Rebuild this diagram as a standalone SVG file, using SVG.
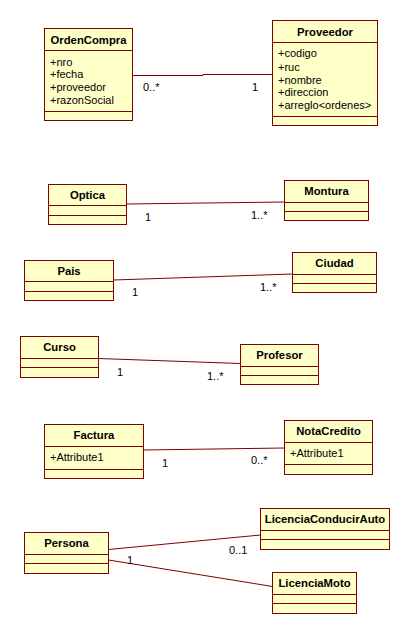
<svg xmlns="http://www.w3.org/2000/svg" width="410" height="634" viewBox="0 0 410 634">
<style>
.box{fill:#FFFFC8;stroke:#800000;stroke-width:1}
.sep{stroke:#800000;stroke-width:1}
.t{font-family:"Liberation Sans",Arial,sans-serif;font-size:11.3px;font-weight:bold;fill:#000;text-anchor:middle}
.a{font-family:"Liberation Sans",Arial,sans-serif;font-size:11px;fill:#000}
.c{fill:none;stroke:#800000;stroke-width:1}
</style>
<rect width="410" height="634" fill="#fff"/>
<g id="connectors">
<polyline class="c" points="132.5,75.5 203,75.5 203,74.5 272.5,74.5"/>
<line class="c" x1="126.5" y1="204" x2="284.5" y2="202"/>
<line class="c" x1="113.5" y1="280" x2="292.5" y2="274"/>
<line class="c" x1="98.5" y1="358.5" x2="240.5" y2="363.5"/>
<line class="c" x1="143.5" y1="450" x2="284.5" y2="448"/>
<line class="c" x1="108.5" y1="549.5" x2="260.5" y2="535"/>
<line class="c" x1="108.5" y1="560" x2="272.5" y2="586.5"/>
<text class="a" x="143" y="91">0..*</text>
<text class="a" x="252" y="91">1</text>
<text class="a" x="145" y="221">1</text>
<text class="a" x="251" y="219">1..*</text>
<text class="a" x="132" y="296">1</text>
<text class="a" x="260" y="291">1..*</text>
<text class="a" x="117" y="376">1</text>
<text class="a" x="207" y="380">1..*</text>
<text class="a" x="162" y="467">1</text>
<text class="a" x="251" y="464">0..*</text>
<text class="a" x="229" y="554">0..1</text>
<text class="a" x="127" y="564">1</text>
</g>
<g id="OrdenCompra">
<rect class="box" x="44.5" y="28.5" width="88" height="92"/>
<line class="sep" x1="44.5" y1="50.5" x2="132.5" y2="50.5"/>
<line class="sep" x1="44.5" y1="111.5" x2="132.5" y2="111.5"/>
<text class="t" x="88.5" y="43.5">OrdenCompra</text>
<text class="a" x="50" y="65.5">+nro</text>
<text class="a" x="50" y="78">+fecha</text>
<text class="a" x="50" y="91">+proveedor</text>
<text class="a" x="50" y="104">+razonSocial</text>
</g>
<g id="Proveedor">
<rect class="box" x="272.5" y="20.5" width="105" height="105"/>
<line class="sep" x1="272.5" y1="42.5" x2="377.5" y2="42.5"/>
<line class="sep" x1="272.5" y1="116.5" x2="377.5" y2="116.5"/>
<text class="t" x="325" y="35.5">Proveedor</text>
<text class="a" x="278" y="57">+codigo</text>
<text class="a" x="278" y="70.5">+ruc</text>
<text class="a" x="278" y="83.5">+nombre</text>
<text class="a" x="278" y="96">+direccion</text>
<text class="a" x="278" y="109">+arreglo&lt;ordenes&gt;</text>
</g>
<g id="Optica">
<rect class="box" x="48.5" y="184.5" width="78" height="40"/>
<line class="sep" x1="48.5" y1="205.5" x2="126.5" y2="205.5"/>
<line class="sep" x1="48.5" y1="215.5" x2="126.5" y2="215.5"/>
<text class="t" x="87.5" y="199">Optica</text>
</g>
<g id="Montura">
<rect class="box" x="284.5" y="180.5" width="84" height="40"/>
<line class="sep" x1="284.5" y1="202.5" x2="368.5" y2="202.5"/>
<line class="sep" x1="284.5" y1="211.5" x2="368.5" y2="211.5"/>
<text class="t" x="326.5" y="195">Montura</text>
</g>
<g id="Pais">
<rect class="box" x="24.5" y="260.5" width="89" height="40"/>
<line class="sep" x1="24.5" y1="281.5" x2="113.5" y2="281.5"/>
<line class="sep" x1="24.5" y1="291.5" x2="113.5" y2="291.5"/>
<text class="t" x="69" y="275">Pais</text>
</g>
<g id="Ciudad">
<rect class="box" x="292.5" y="252.5" width="84" height="40"/>
<line class="sep" x1="292.5" y1="274.5" x2="376.5" y2="274.5"/>
<line class="sep" x1="292.5" y1="283.5" x2="376.5" y2="283.5"/>
<text class="t" x="334.5" y="267">Ciudad</text>
</g>
<g id="Curso">
<rect class="box" x="20.5" y="336.5" width="78" height="41"/>
<line class="sep" x1="20.5" y1="358.5" x2="98.5" y2="358.5"/>
<line class="sep" x1="20.5" y1="367.5" x2="98.5" y2="367.5"/>
<text class="t" x="59.5" y="351">Curso</text>
</g>
<g id="Profesor">
<rect class="box" x="240.5" y="344.5" width="78" height="40"/>
<line class="sep" x1="240.5" y1="366.5" x2="318.5" y2="366.5"/>
<line class="sep" x1="240.5" y1="375.5" x2="318.5" y2="375.5"/>
<text class="t" x="279.5" y="359">Profesor</text>
</g>
<g id="Factura">
<rect class="box" x="44.5" y="424.5" width="99" height="54"/>
<line class="sep" x1="44.5" y1="446.5" x2="143.5" y2="446.5"/>
<line class="sep" x1="44.5" y1="469.5" x2="143.5" y2="469.5"/>
<text class="t" x="94" y="439">Factura</text>
<text class="a" x="50" y="461">+Attribute1</text>
</g>
<g id="NotaCredito">
<rect class="box" x="284.5" y="420.5" width="88" height="54"/>
<line class="sep" x1="284.5" y1="442.5" x2="372.5" y2="442.5"/>
<line class="sep" x1="284.5" y1="464.5" x2="372.5" y2="464.5"/>
<text class="t" x="328.5" y="434.5">NotaCredito</text>
<text class="a" x="290" y="457">+Attribute1</text>
</g>
<g id="Persona">
<rect class="box" x="24.5" y="532.5" width="84" height="41"/>
<line class="sep" x1="24.5" y1="554.5" x2="108.5" y2="554.5"/>
<line class="sep" x1="24.5" y1="563.5" x2="108.5" y2="563.5"/>
<text class="t" x="66.5" y="547">Persona</text>
</g>
<g id="LicenciaConducirAuto">
<rect class="box" x="260.5" y="508.5" width="129" height="41"/>
<line class="sep" x1="260.5" y1="530.5" x2="389.5" y2="530.5"/>
<line class="sep" x1="260.5" y1="539.5" x2="389.5" y2="539.5"/>
<text class="t" x="325" y="523">LicenciaConducirAuto</text>
</g>
<g id="LicenciaMoto">
<rect class="box" x="272.5" y="572.5" width="84" height="41"/>
<line class="sep" x1="272.5" y1="594.5" x2="356.5" y2="594.5"/>
<line class="sep" x1="272.5" y1="603.5" x2="356.5" y2="603.5"/>
<text class="t" x="314.5" y="587">LicenciaMoto</text>
</g>
</svg>
